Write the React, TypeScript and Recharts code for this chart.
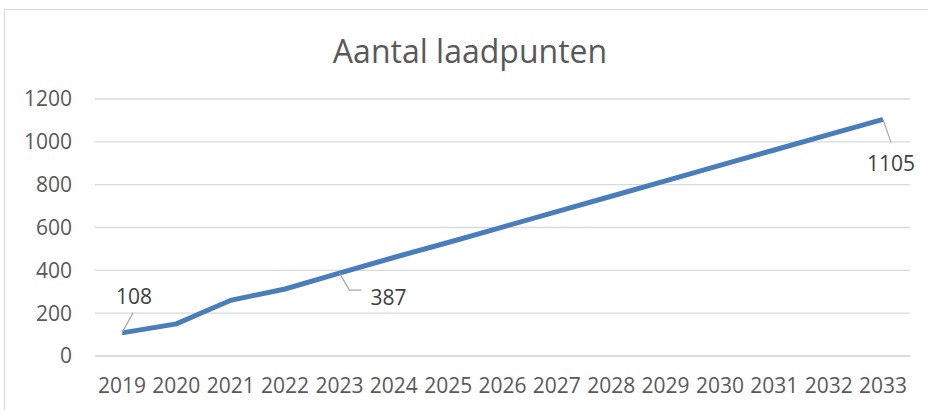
import React from "react";
import { LineChart, Line, XAxis, YAxis, CartesianGrid, LabelList } from "recharts";

const years = ["2019","2020","2021","2022","2023","2024","2025","2026","2027","2028","2029","2030","2031","2032","2033"];
const laadpunten = [108, 150, 260, 313, 387, 460, 530, 602, 674, 746, 818, 890, 962, 1034, 1105];
const labelledYears = ["2019", "2023", "2033"];
const yTicks = [0, 200, 400, 600, 800, 1000, 1200];
const title = "Aantal laadpunten";

const data = years.map((y, i) => ({ year: y, value: laadpunten[i] }));

const FONT = "'Open Sans', 'Liberation Sans', sans-serif";
const TEXT = "#595959";

// label placement per labelled point: text offset + leader line
const labelPlacement: Record<string, { dx: number; dy: number; leader: (x: number, y: number) => string }> = {
  "2019": { dx: 12, dy: -37, leader: (x, y) => `M${x},${y} L${x + 11},${y - 20}` },
  "2023": { dx: 49, dy: 24, leader: (x, y) => `M${x},${y} L${x + 10},${y + 17} L${x + 22},${y + 17}` },
  "2033": { dx: 8, dy: 44, leader: (x, y) => `M${x},${y} L${x + 8},${y + 23}` },
};

const DataLabel = (props: any) => {
  const { x, y, value, index } = props;
  const yr = years[index];
  if (!labelledYears.includes(yr)) return null;
  const p = labelPlacement[yr];
  return (
    <g>
      <path d={p.leader(x, y)} stroke="#a6a6a6" strokeWidth={1.2} fill="none" />
      <text x={x + p.dx} y={y + p.dy} textAnchor="middle" dominantBaseline="central" fill="#404040" fontSize={21} fontFamily={FONT}>
        {value}
      </text>
    </g>
  );
};

export default function App() {
  return (
    <div style={{ position: "absolute", left: 0, top: 0, width: 928, height: 410, background: "#fff", overflow: "hidden" }}>
      <div style={{ position: "absolute", left: 4, top: 9, width: 940, height: 420, border: "1px solid #d9d9d9", boxSizing: "border-box" }} />
      <div style={{ position: "absolute", left: 0, top: 29, width: 940, textAlign: "center", fontFamily: FONT, fontSize: 32, color: TEXT, whiteSpace: "nowrap" }}>
        {title}
      </div>
      <div style={{ position: "absolute", left: 0, top: 0 }}>
        <LineChart width={928} height={410} data={data} margin={{ top: 99, right: 18, bottom: 24, left: 35 }}>
          <CartesianGrid vertical={false} stroke="#d9d9d9" strokeWidth={1.3} />
          <XAxis
            dataKey="year"
            height={30}
            padding={{ left: 27, right: 27 }}
            axisLine={{ stroke: "#d9d9d9", strokeWidth: 1.3 }}
            tickLine={false}
            tickSize={0}
            tickMargin={22}
            interval={0}
            tick={{ fill: TEXT, fontSize: 21, fontFamily: FONT }}
          />
          <YAxis
            width={60}
            domain={[0, 1200]}
            ticks={yTicks}
            axisLine={false}
            tickLine={false}
            tickSize={0}
            tickMargin={23}
            tick={{ fill: TEXT, fontSize: 21, fontFamily: FONT }}
          />
          <Line
            type="linear"
            dataKey="value"
            stroke="#4a7ebb"
            strokeWidth={5}
            dot={false}
            isAnimationActive={false}
          >
            <LabelList dataKey="value" content={<DataLabel />} />
          </Line>
        </LineChart>
      </div>
    </div>
  );
}
